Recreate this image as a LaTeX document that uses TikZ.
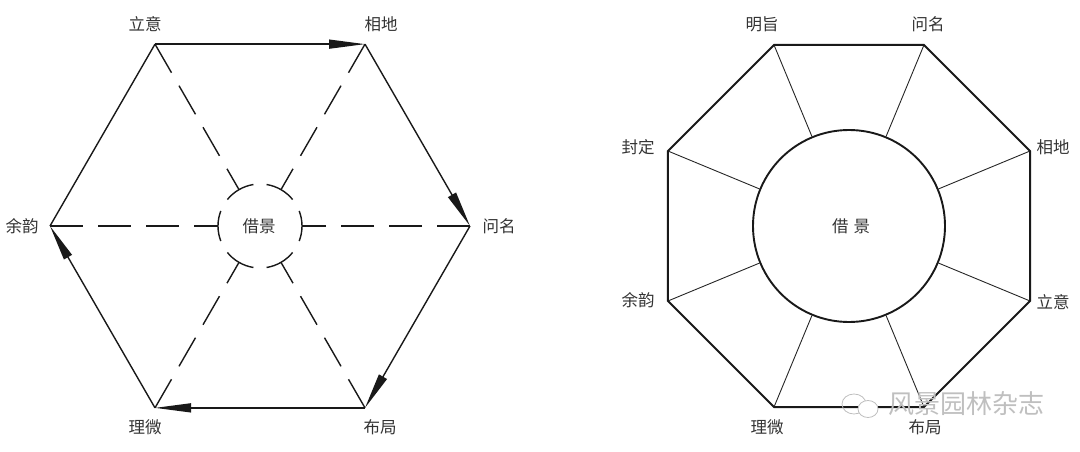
\documentclass[tikz,border=0pt]{standalone}
\usepackage{fontspec}
\newfontfamily\cjk{Noto Sans CJK SC}
\usetikzlibrary{arrows.meta}
\begin{document}
\begin{tikzpicture}[x=1pt,y=1pt,
  lbl/.style={font=\cjk\fontsize{16.5}{18}\selectfont, text=black!80, inner sep=0pt},
  hexedge/.style={line width=1.4pt, black!90},
  arr/.style={hexedge, -{Triangle[length=36pt,width=9pt]}},
  spoke/.style={line width=1.4pt, black!90, dash pattern=on 33pt off 15pt},
  circarc/.style={line width=1.4pt, black!90},
  octedge/.style={line width=1.9pt, black!90, line join=miter},
  octspoke/.style={line width=0.9pt, black!85},
  hub/.style={draw=black!90, circle, line width=1.9pt, minimum size=192pt, inner sep=0pt,
              font=\cjk\fontsize{16.5}{18}\selectfont, text=black!80},
  wm/.style={font=\cjk\fontsize{26}{28}\selectfont, text=black!25, inner sep=0pt}]
\useasboundingbox (0,0) rectangle (1080,451);

% ---------------- left: hexagon ----------------
\coordinate (HC) at (260,225);
\foreach \n/\a in {LiYi/120, XiangDi/60, WenMing/0, BuJu/300, LiWei/240, YuYun/180}{
  \path (HC) ++(\a:210) coordinate (H\n);
  \path (HC) ++(\a:42) coordinate (HI\n);
  \draw[spoke] (H\n) -- (HI\n);
  \draw[circarc] (HC) ++({\a-21}:42) arc[start angle={\a-21}, end angle={\a+21}, radius=42];
}
\draw[arr] (HLiYi) -- (HXiangDi);
\draw[arr] (HXiangDi) -- (HWenMing);
\draw[arr] (HWenMing) -- (HBuJu);
\draw[arr] (HBuJu) -- (HLiWei);
\draw[arr] (HLiWei) -- (HYuYun);
\draw[hexedge] (HYuYun) -- (HLiYi);

\node[lbl] (hcenter) at (259,225) {借景};
\node[lbl] (tLiYi) at (145,427) {立意};
\node[lbl] (tXiangDi) at (381,427) {相地};
\node[lbl] (tWenMing) at (499,225) {问名};
\node[lbl] (tBuJu) at (380,24) {布局};
\node[lbl] (tLiWei) at (145,24) {理微};
\node[lbl] (tYuYun) at (22,225) {余韵};

% ---------------- right: octagon ----------------
\node[hub] (OC) at (849,225) {\hspace*{4pt}借\hspace{5pt}景};
\foreach \n/\a in {XiangDi/22.5, WenMing/67.5, MingZhi/112.5, FengDing/157.5,
                   YuYun/202.5, LiWei/247.5, BuJu/292.5, LiYi/337.5}{
  \path (OC.center) ++(\a:196) coordinate (O\n);
  \draw[octspoke] (O\n) -- (OC);
}
\draw[octedge] (OXiangDi) -- (OWenMing) -- (OMingZhi) -- (OFengDing) -- (OYuYun)
  -- (OLiWei) -- (OBuJu) -- (OLiYi) -- cycle;

\node[lbl] (rMingZhi) at (762,427) {明旨};
\node[lbl] (rWenMing) at (928,427) {问名};
\node[lbl] (rFengDing) at (638,304) {封定};
\node[lbl] (rXiangDi) at (1053,304) {相地};
\node[lbl] (rYuYun) at (638,151) {余韵};
\node[lbl] (rLiYi) at (1053,149) {立意};
\node[lbl] (rLiWei) at (767,24) {理微};
\node[lbl] (rBuJu) at (925,24) {布局};

% ---------------- watermark ----------------
\draw[black!25, line width=0.8pt] (854,47) ellipse (12pt and 10pt);
\draw[black!25, line width=0.8pt, fill=white] (868,42) ellipse (10pt and 8.5pt);
\node[wm] (wmark) at (966,47) {风景园林杂志};
\end{tikzpicture}
\end{document}
